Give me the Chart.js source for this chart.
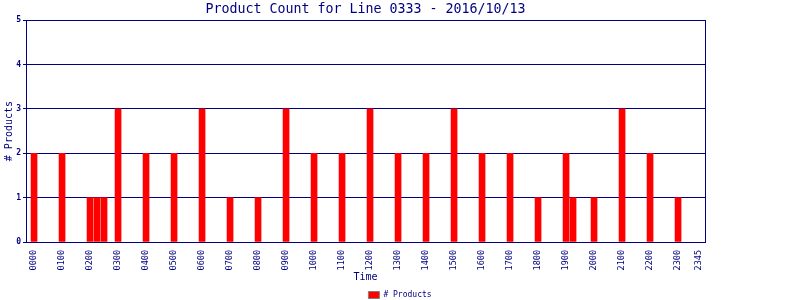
<!DOCTYPE html>
<html lang="en">
<head>
  <meta charset="UTF-8">
  <title>Product Count for Line 0333</title>
  <script src="https://cdn.jsdelivr.net/npm/chart.js"></script>
  <style>
    body {
      margin: 0;
      background-color: white;
    }
  </style>
</head>
<body>
  <canvas id="countChart" width="800" height="300"></canvas>

  <script>
    // 15-minute slots that had products, and the count in each
    const slots = ["0000", "0100", "0200", "0215", "0230", "0300", "0400", "0500", "0600",
      "0700", "0800", "0900", "1000", "1100", "1200", "1300", "1400", "1500", "1600",
      "1700", "1800", "1900", "1915", "2000", "2100", "2200", "2300"];
    const counts = [2, 2, 1, 1, 1, 3, 2, 2, 3, 1, 1, 3, 2, 2, 3, 2, 2, 3, 2, 2, 1, 2, 1, 1, 3, 2, 1];

    const tickLabels = ["0000", "0100", "0200", "0300", "0400", "0500", "0600", "0700",
      "0800", "0900", "1000", "1100", "1200", "1300", "1400", "1500", "1600", "1700",
      "1800", "1900", "2000", "2100", "2200", "2300", "2345"];

    const navy = "#000080";
    const mono = "'DejaVu Sans Mono', monospace";

    // "hhmm" -> index of the quarter hour
    function slotIndex(label) {
      return (+label.slice(0, 2)) * 4 + (+label.slice(2)) / 15;
    }

    const points = slots.map((s, i) => ({ x: slotIndex(s), y: counts[i] }));
    const labelByIndex = {};
    tickLabels.forEach(l => { labelByIndex[slotIndex(l)] = l; });

    const ctx = document.getElementById("countChart").getContext("2d");
    new Chart(ctx, {
      type: "bar",
      data: {
        datasets: [{
          label: "# Products",
          data: points,
          backgroundColor: "#FF0000",
          borderWidth: 0,
          barThickness: 6
        }]
      },
      options: {
        responsive: false,
        animation: false,
        scales: {
          x: {
            type: "linear",
            min: -1.15,
            max: 95.85,
            offset: false,
            afterBuildTicks: scale => {
              scale.ticks = tickLabels.map(l => ({ value: slotIndex(l) }));
            },
            afterFit: scale => { scale.height = 48; },
            ticks: {
              autoSkip: false,
              maxRotation: 90,
              minRotation: 90,
              padding: 0,
              color: navy,
              font: { family: mono, size: 8.5 },
              callback: value => labelByIndex[value]
            },
            grid: { display: false, offset: false },
            border: { display: true, color: navy },
            title: {
              display: true,
              text: "Time",
              color: navy,
              font: { family: mono, size: 10 },
              padding: { top: 0, bottom: 7 }
            }
          },
          y: {
            min: 0,
            max: 5,
            afterFit: scale => { scale.width = 26; },
            ticks: {
              stepSize: 1,
              padding: 2,
              color: navy,
              font: { family: mono, size: 8, weight: "bold" }
            },
            grid: {
              color: navy,
              tickLength: 3
            },
            border: { display: true, color: navy },
            title: {
              display: true,
              text: "# Products",
              color: navy,
              font: { family: mono, size: 10 },
              padding: { top: 3, bottom: 0 }
            }
          },
          // empty right axis: draws the right edge of the frame
          yRight: {
            position: "right",
            display: true,
            min: 0,
            max: 5,
            afterFit: scale => { scale.width = 95; },
            ticks: { display: false },
            grid: { display: false },
            border: { display: true, color: navy }
          }
        },
        plugins: {
          title: {
            display: true,
            fullSize: false,
            text: "Product Count for Line 0333 - 2016/10/13",
            color: navy,
            font: { family: mono, size: 13.3, weight: "normal" },
            padding: { top: 2, bottom: 2.2 }
          },
          legend: {
            position: "bottom",
            maxHeight: 10,
            labels: {
              color: navy,
              boxWidth: 11,
              boxHeight: 7,
              padding: 1,
              font: { family: mono, size: 8 },
              generateLabels: chart =>
                Chart.defaults.plugins.legend.labels.generateLabels(chart).map(l => ({
                  ...l, strokeStyle: "#808080", lineWidth: 1
                }))
            }
          },
          tooltip: { enabled: false }
        }
      }
    });
  </script>
</body>
</html>
